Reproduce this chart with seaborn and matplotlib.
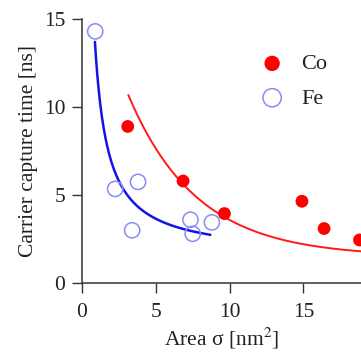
import numpy as np
import pandas as pd
import matplotlib
matplotlib.use("Agg")
import matplotlib.pyplot as plt
import seaborn as sns

# Data
co_area = [3.1, 6.85, 9.65, 14.9, 16.4, 18.8]
co_time = [8.9, 5.8, 3.95, 4.65, 3.1, 2.45]
fe_area = [0.9, 2.25, 3.8, 3.4, 7.35, 7.5, 8.8]
fe_time = [14.3, 5.35, 5.75, 3.0, 3.6, 2.8, 3.45]

# Fit curves (model parameters)
fe_fit_a, fe_fit_b = 1.51, 10.73          # tau = a + b / sigma
fe_fit_range = (0.88, 8.7)
co_fit_a, co_fit_b, co_fit_c = 1.5, 18.1, 4.63   # tau = a + b*exp(-sigma/c)
co_fit_range = (3.14, 19.0)

xticks = [0, 5, 10, 15]
yticks = [0, 5, 10, 15]

sns.set_theme(style="ticks")
plt.rcParams['font.family'] = ['Liberation Serif', 'DejaVu Serif']
plt.rcParams['mathtext.fontset'] = 'stix'

fig = plt.figure(figsize=(3.61, 3.53), dpi=100)
ax = fig.add_axes([0.227, 0.198, 0.773, 0.748])

fe_x = np.linspace(*fe_fit_range, 200)
fe_y = fe_fit_a + fe_fit_b / fe_x
co_x = np.linspace(*co_fit_range, 200)
co_y = co_fit_a + co_fit_b * np.exp(-co_x / co_fit_c)

sns.lineplot(x=fe_x, y=fe_y, ax=ax, color='#1414e6', linewidth=1.8, sort=False)
sns.lineplot(x=co_x, y=co_y, ax=ax, color='#ff1a1a', linewidth=1.4, sort=False)

df_co = pd.DataFrame({'area': co_area, 'time': co_time})
df_fe = pd.DataFrame({'area': fe_area, 'time': fe_time})
sns.scatterplot(data=df_co, x='area', y='time', ax=ax, color='#ff0000',
                s=85, edgecolor='none', label='Co', clip_on=False, zorder=5)
sns.scatterplot(data=df_fe, x='area', y='time', ax=ax, facecolor='none',
                edgecolor='#8c8cf0', linewidth=1.1, s=120, label='Fe',
                clip_on=False, zorder=5)

ax.set_xlim(0, 18.9)
ax.set_ylim(0, 15)
ax.set_xticks(xticks)
ax.set_yticks(yticks)
ax.tick_params(direction='out', length=7, width=1, colors='#333333',
               labelcolor='#222222', labelsize=15.5, pad=5)
ax.tick_params(axis='x', pad=7)
for s in ['top', 'right']:
    ax.spines[s].set_visible(False)
for s in ['left', 'bottom']:
    ax.spines[s].set_color('#333333')
    ax.spines[s].set_linewidth(1.1)

ax.set_xlabel('Area σ [nm$^{2}$]', fontsize=15.5, color='#222222', labelpad=3)
ax.set_ylabel('Carrier capture time [ns]', fontsize=15.5, color='#222222', labelpad=4)

handles, labels = ax.get_legend_handles_labels()
sc_h = [h for h, l in zip(handles, labels) if l in ('Co', 'Fe')]
leg = ax.legend(sc_h, ['Co', 'Fe'], frameon=False, loc='center left',
                bbox_to_anchor=(0.57, 0.765), fontsize=16, handletextpad=0.3,
                labelspacing=0.62, markerscale=1.2, borderaxespad=0)
for t in leg.get_texts():
    t.set_color('#222222')

fig.savefig('out.png', dpi=100)
